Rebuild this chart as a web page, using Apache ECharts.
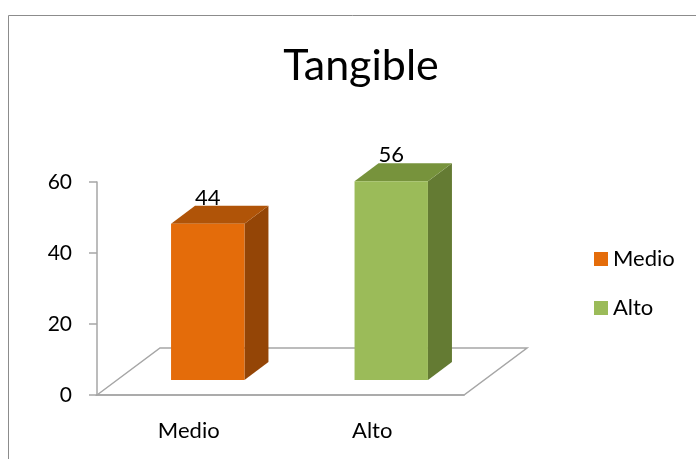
<!DOCTYPE html>
<html>
<head>
<meta charset="utf-8">
<script src="https://cdn.jsdelivr.net/npm/echarts@6/dist/echarts.min.js"></script>
<style>
  html, body { margin: 0; padding: 0; background: #fff; }
  #chart { width: 696px; height: 459px; }
</style>
</head>
<body>
<div id="chart"></div>
<script>
const categories = ["Medio", "Alto"];
const values = [44, 56];
const yTicks = [0, 20, 40, 60];

const frontColors = ["#E46C0A", "#9BBB59"];
const topColors = ["#B05408", "#77933C"];
const sideColors = ["#944506", "#647B33"];

const FONT = "Lato";
// depth geometry of the 3D look (pixels)
const floorDx = 63, floorDy = 47;
const barShiftX = 19, barShiftY = 15;
const barDx = 24, barDy = 18;
const barRatio = 0.4;

const chart = echarts.init(document.getElementById("chart"));

function floorRender(params, api) {
  const r = params.coordSys;
  const bottom = r.y + r.height;
  return {
    type: "polygon",
    shape: {
      points: [
        [r.x, bottom],
        [r.x + floorDx, bottom - floorDy],
        [r.x + r.width + floorDx, bottom - floorDy],
        [r.x + r.width, bottom]
      ]
    },
    style: { fill: "none", stroke: "#A6A6A6", lineWidth: 1.5 }
  };
}

function makeBarRender(i) {
  return function (params, api) {
    const idx = api.value(0);
    const val = api.value(1);
    const base = api.coord([idx, 0]);
    const top = api.coord([idx, val]);
    const w = api.size([1, 0])[0] * barRatio;
    const x0 = base[0] + barShiftX - w / 2;
    const x1 = x0 + w;
    const yb = base[1] - barShiftY;
    const yt = top[1] - barShiftY;
    return {
      type: "group",
      children: [
        {
          type: "polygon",
          shape: { points: [[x1, yt], [x1, yb], [x1 + barDx, yb - barDy], [x1 + barDx, yt - barDy]] },
          style: { fill: sideColors[i] }
        },
        {
          type: "polygon",
          shape: { points: [[x0, yt], [x1, yt], [x1 + barDx, yt - barDy], [x0 + barDx, yt - barDy]] },
          style: { fill: topColors[i] }
        },
        {
          type: "rect",
          shape: { x: x0, y: yt, width: w, height: yb - yt },
          style: { fill: frontColors[i] }
        },
        {
          type: "text",
          x: (x0 + x1) / 2,
          y: yt - 26,
          style: {
            text: String(val),
            fill: "#000",
            font: "22px " + FONT,
            align: "center",
            verticalAlign: "middle"
          }
        }
      ]
    };
  };
}

const series = [
  {
    type: "custom",
    name: "floor",
    renderItem: floorRender,
    data: [[0, 0]],
    z: 1,
    silent: true
  }
];
categories.forEach(function (c, i) {
  series.push({
    type: "custom",
    name: c,
    renderItem: makeBarRender(i),
    itemStyle: { color: frontColors[i] },
    data: [[i, values[i]]],
    z: 2
  });
});

chart.setOption({
  animation: false,
  title: {
    text: "Tangible",
    left: 356,
    top: 40,
    textAlign: "center",
    textStyle: { fontFamily: FONT, fontSize: 43, fontWeight: "normal", color: "#000" }
  },
  graphic: [
    {
      type: "rect",
      shape: { x: 8.5, y: 15.5, width: 720, height: 480 },
      style: { fill: "none", stroke: "#8C8C8C", lineWidth: 1 }
    }
  ],
  legend: {
    data: categories,
    orient: "vertical",
    left: 589,
    top: 243,
    icon: "rect",
    itemWidth: 14,
    itemHeight: 14,
    itemGap: 27,
    textStyle: { fontFamily: FONT, fontSize: 22, color: "#000" }
  },
  grid: { left: 97, right: 232, top: 182, bottom: 64 },
  xAxis: {
    type: "category",
    data: categories,
    axisLine: { lineStyle: { color: "#A6A6A6", width: 1.5 } },
    axisTick: { length: 8, lineStyle: { color: "#A6A6A6", width: 1.5 } },
    axisLabel: { margin: 25, fontFamily: FONT, fontSize: 22, color: "#000" }
  },
  yAxis: {
    type: "value",
    min: yTicks[0],
    max: yTicks[yTicks.length - 1],
    interval: yTicks[1] - yTicks[0],
    axisLine: { show: true, lineStyle: { color: "#A6A6A6", width: 1.5 } },
    axisTick: { show: true, length: 8, lineStyle: { color: "#A6A6A6", width: 1.5 } },
    splitLine: { show: false },
    axisLabel: { margin: 25, fontFamily: FONT, fontSize: 21, color: "#000" }
  },
  series: series
});
</script>
</body>
</html>
